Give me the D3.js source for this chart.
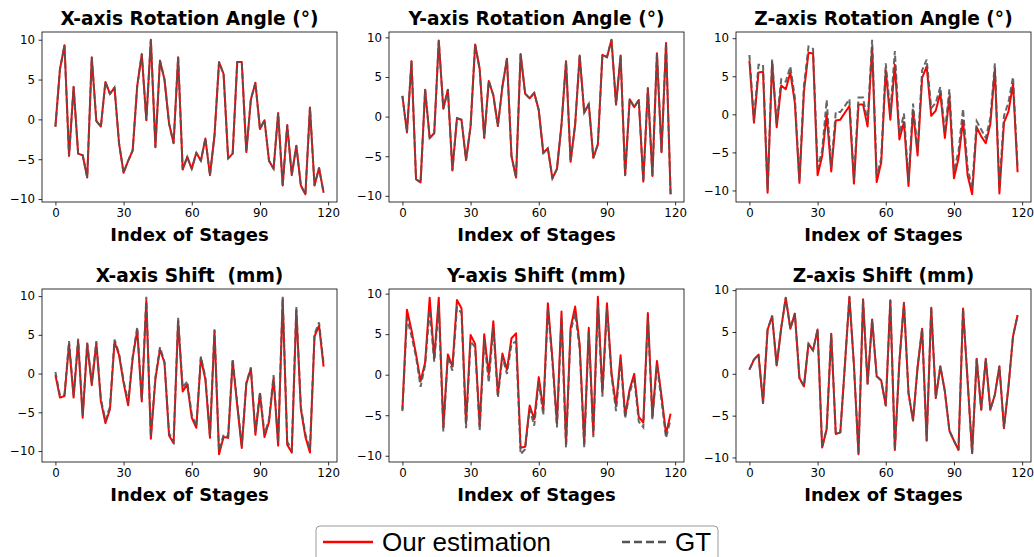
<!DOCTYPE html>
<meta charset="utf-8">
<body style="margin:0;background:#fff">
<script src="https://d3js.org/d3.v7.min.js"></script>
<script>

// Stage indices (every second stage, 0..118)
var stages = d3.range(0, 120, 2);

var xTicks = [0, 30, 60, 90, 120];
var yTicks = [-10, -5, 0, 5, 10];

var titles = ["X-axis Rotation Angle (°)", "Y-axis Rotation Angle (°)", "Z-axis Rotation Angle (°)",
              "X-axis Shift  (mm)", "Y-axis Shift (mm)", "Z-axis Shift (mm)"];

var legendLabels = ["Our estimation", "GT"];

// X rotation
var xRotEst = [-0.9, 6.3, 9.3, -4.6, 4.1, -4.3, -4.5, -7.3, 7.8, -0.2,
               -0.9, 4.7, 3.2, 4.0, -3.0, -6.7, -5.2, -3.9, 4.2, 8.2,
               -0.1, 10.0, -3.5, 7.4, 5.0, -0.5, -3.0, 7.8, -6.3, -4.7,
               -6.2, -4.2, -5.2, -2.4, -7.0, -2.0, 7.2, 5.7, -4.9, -4.3,
               7.2, 7.2, -4.1, 2.5, 4.6, -1.2, -0.1, -5.2, -6.2, 0.8,
               -8.3, -0.7, -7.0, -3.3, -8.3, -9.4, 1.5, -8.3, -6.1, -9.2];
var xRotGT = [-0.9, 6.3, 9.3, -4.6, 4.1, -4.3, -4.5, -7.3, 7.8, -0.2,
              -0.9, 4.7, 3.2, 4.0, -3.0, -6.7, -5.2, -3.9, 4.2, 8.2,
              -0.1, 10.0, -3.5, 7.4, 5.0, -0.5, -3.0, 7.8, -6.3, -4.7,
              -6.2, -4.2, -5.2, -2.4, -7.0, -2.0, 7.2, 5.7, -4.9, -4.3,
              7.2, 7.2, -4.1, 2.5, 4.6, -1.2, -0.1, -5.2, -6.2, 0.8,
              -8.3, -0.7, -7.0, -3.3, -8.3, -9.4, 1.5, -8.3, -6.1, -9.2];

// Y rotation
var yRotEst = [2.6, -2.0, 7.0, -7.9, -8.3, 3.4, -2.7, -2.1, 9.6, 1.0,
               3.4, -6.8, -0.2, -0.4, -5.5, -1.2, 9.1, 6.0, -2.7, 4.5,
               2.7, -1.2, 3.8, 7.3, -5.0, -7.7, 7.9, 2.9, 2.3, 3.0,
               0.8, -4.6, -4.0, -7.8, -6.6, -1.0, 7.0, -5.7, -1.0, 7.7,
               0.5, 1.6, -5.2, -3.5, 7.8, 7.5, 9.7, 1.5, 7.7, -7.4,
               2.2, 1.2, 2.1, -8.2, 3.6, -7.5, 8.0, -4.5, 9.3, -9.8];
var yRotGT = [2.6, -2.0, 7.0, -7.9, -8.3, 3.4, -2.7, -2.1, 9.6, 1.0,
              3.4, -6.8, -0.2, -0.4, -5.5, -1.2, 9.1, 6.0, -2.7, 4.5,
              2.7, -1.2, 3.8, 7.3, -5.0, -7.7, 7.9, 2.9, 2.3, 3.0,
              0.8, -4.6, -4.0, -7.8, -6.6, -1.0, 7.0, -5.7, -1.0, 7.7,
              0.5, 1.6, -5.2, -3.5, 7.8, 7.5, 9.7, 1.5, 7.7, -7.4,
              2.2, 1.2, 2.1, -8.2, 3.6, -7.5, 8.0, -4.5, 9.3, -9.8];

// Z rotation
var zRotEst = [7.0, -1.1, 5.5, 5.6, -10.3, 6.9, -1.7, 3.8, 3.3, 5.5,
               1.5, -9.0, 3.0, 8.1, 8.0, -8.0, -5.5, 0.0, -7.5, -0.8,
               -0.7, 0.2, 1.1, -9.1, 1.3, 1.3, -1.6, 8.8, -8.9, -6.3,
               5.8, -0.7, 6.5, -3.3, -1.0, -9.4, 0.5, -5.4, 4.8, 6.3,
               -0.2, 0.5, 2.8, -3.1, 2.3, -8.4, -5.8, -0.8, -8.0, -10.5,
               -1.7, -2.9, -3.8, -1.3, 5.9, -10.4, -1.1, 0.4, 4.0, -7.6];
var zRotGT = [7.8, -0.8, 6.5, 6.5, -10.0, 7.2, -1.2, 4.6, 4.3, 6.3,
              2.2, -8.7, 3.8, 8.9, 8.6, -7.0, -4.8, 1.9, -7.0, 0.3,
              0.3, 1.1, 2.0, -8.6, 2.2, 2.2, -1.0, 9.8, -8.0, -5.8,
              6.7, 0.2, 8.3, -2.6, 0.1, -8.8, 1.4, -4.7, 5.8, 7.2,
              0.8, 1.5, 3.6, -2.4, 3.3, -7.5, -4.8, 0.7, -7.0, -9.7,
              -0.9, -2.0, -3.1, -0.5, 6.7, -9.6, -0.2, 1.6, 4.9, -7.0];

// X shift
var xShiftEst = [-0.2, -3.1, -2.9, 3.8, -3.1, 4.2, -5.7, 3.8, -1.5, 3.9,
                 -3.5, -6.4, -4.6, 4.1, 2.4, -1.2, -4.1, 2.0, 5.6, -3.6,
                 9.4, -8.4, -0.7, 3.1, 1.4, -8.0, -9.0, 6.8, -2.3, -1.4,
                 -5.7, -7.0, 2.0, -0.8, -8.3, 5.5, -10.4, -8.2, -8.3, 1.6,
                 -4.1, -9.6, -1.3, 0.6, -7.9, -2.6, -8.2, -6.2, -0.6, -9.3,
                 9.6, -9.2, -10.2, 8.2, -4.6, -8.2, -10.2, 4.8, 6.2, 0.9];
var xShiftGT = [0.2, -2.8, -2.7, 4.2, -2.8, 4.5, -5.4, 4.0, -1.2, 4.2,
                -3.3, -6.0, -4.3, 4.4, 2.6, -0.9, -3.7, 2.2, 6.0, -3.4,
                9.9, -8.0, -0.5, 3.4, 1.5, -7.7, -8.8, 7.2, -1.8, -1.0,
                -5.3, -6.8, 2.2, -0.5, -8.0, 5.7, -10.0, -7.9, -8.1, 1.9,
                -3.8, -9.3, -1.2, 0.8, -7.5, -2.4, -7.8, -5.9, -0.2, -9.0,
                9.9, -8.8, -9.8, 8.6, -4.3, -7.8, -9.8, 5.1, 6.6, 1.3];

// Y shift
var yShiftEst = [-4.3, 8.0, 5.5, 2.5, -0.8, 1.5, 9.5, 2.0, 9.5, -6.5,
                 2.5, 1.0, 9.2, 8.2, -6.0, 4.9, 3.8, -6.3, 5.0, 0.0,
                 6.6, -2.5, 2.6, 0.6, 4.5, 5.1, -9.0, -8.9, -3.8, -5.5,
                 -0.3, -4.3, 8.8, 2.0, -6.0, 7.8, -8.5, 5.8, 8.4, 3.7,
                 -8.5, 5.8, -7.3, 9.6, -2.2, 8.8, 0.2, -3.8, 2.4, -5.0,
                 -1.8, 0.1, -5.2, -5.9, 7.6, -5.2, 1.7, -2.6, -7.3, -4.8];
var yShiftGT = [-4.5, 7.0, 4.8, 2.2, -1.5, 1.2, 8.0, 1.6, 8.4, -7.0,
                2.2, 0.5, 8.3, 7.6, -6.6, 4.1, 3.4, -6.9, 4.3, -1.0,
                5.9, -2.8, 2.2, 0.1, 3.8, 4.1, -9.8, -9.2, -4.2, -6.3,
                -0.8, -5.0, 8.2, 1.6, -6.5, 7.0, -9.0, 5.3, 7.6, 3.2,
                -9.0, 5.3, -7.7, 8.6, -2.7, 8.2, -0.1, -4.5, 1.9, -5.4,
                -2.2, -0.4, -5.8, -6.5, 7.0, -5.5, 1.2, -3.2, -7.8, -5.5];

// Z shift
var zShiftEst = [0.5, 1.7, 2.3, -3.5, 5.3, 6.9, 1.0, 5.5, 9.1, 5.4,
                 7.2, -0.5, -1.5, 3.6, 2.8, 5.3, -8.8, -6.6, 4.8, -7.2,
                 -7.0, 1.0, 9.2, 1.0, -9.6, 8.9, -1.2, 6.5, -0.3, -0.8,
                 -3.8, 8.8, -9.1, 1.5, 8.5, -2.3, -5.6, 0.8, 5.4, -8.0,
                 7.9, -2.9, 0.9, -2.1, -6.8, -8.0, -9.1, 7.8, -0.8, -9.5,
                 1.8, -4.3, 1.8, -4.3, -2.5, 0.9, -6.5, -1.5, 4.5, 7.0];
var zShiftGT = [0.5, 1.7, 2.3, -3.5, 5.3, 6.9, 1.0, 5.5, 9.1, 5.4,
                7.2, -0.5, -1.5, 3.6, 2.8, 5.3, -8.8, -6.6, 4.8, -7.2,
                -7.0, 1.0, 9.2, 1.0, -9.6, 8.9, -1.2, 6.5, -0.3, -0.8,
                -3.8, 8.8, -9.1, 1.5, 8.5, -2.3, -5.6, 0.8, 5.4, -8.0,
                7.9, -2.9, 0.9, -2.1, -6.8, -8.0, -9.1, 7.8, -0.8, -9.5,
                1.8, -4.3, 1.8, -4.3, -2.5, 0.9, -6.5, -1.5, 4.5, 7.0];

var estSeries = [xRotEst, yRotEst, zRotEst, xShiftEst, yShiftEst, zShiftEst];
var gtSeries = [xRotGT, yRotGT, zRotGT, xShiftGT, yShiftGT, zShiftGT];

// Layout of the six axes boxes
var width = 1034, height = 557;
var colLeft = [42, 389, 736], colWidth = 295;
var rowTop = [32, 289], rowHeight = [170, 173];

var svg = d3.select("body").append("svg")
    .attr("width", width)
    .attr("height", height)
    .style("font-family", "'DejaVu Sans', sans-serif");

var minus = function(d) { return d < 0 ? "\u2212" + Math.abs(d) : "" + d; };

for (var k = 0; k < 6; k++) {
    var col = k % 3, row = Math.floor(k / 3);
    var w = colWidth, h = rowHeight[row];
    var est = estSeries[k], gt = gtSeries[k];

    var lo = d3.min(est.concat(gt)), hi = d3.max(est.concat(gt));
    var pad = (hi - lo) * 0.05;
    var xPad = (stages[stages.length - 1] - stages[0]) * 0.05;

    var x = d3.scaleLinear().domain([stages[0] - xPad, stages[stages.length - 1] + xPad]).range([0, w]);
    var y = d3.scaleLinear().domain([lo - pad, hi + pad]).range([h, 0]);

    var g = svg.append("g")
        .attr("transform", "translate(" + [colLeft[col], rowTop[row]] + ")");

    var xAxis = g.append("g")
        .attr("transform", "translate(0," + h + ")")
        .call(d3.axisBottom(x).tickValues(xTicks).tickSize(3.5).tickPadding(3.5).tickFormat(minus));

    var yAxis = g.append("g")
        .call(d3.axisLeft(y).tickValues(yTicks).tickSize(3.5).tickPadding(3.5).tickFormat(minus));

    [xAxis, yAxis].forEach(function(a) {
        a.select(".domain").remove();
        a.selectAll("line").attr("stroke", "#000").attr("stroke-width", 0.8);
        a.selectAll("text").attr("font-family", "'DejaVu Sans', sans-serif")
            .attr("font-size", "11.8px").attr("fill", "#000");
    });

    var line = d3.line()
        .x(function(d, i) { return x(stages[i]); })
        .y(function(d) { return y(d); });

    g.append("path")
        .datum(est)
        .attr("fill", "none")
        .attr("stroke", "#ff0000")
        .attr("stroke-width", 2)
        .attr("stroke-linejoin", "round")
        .attr("d", line);

    g.append("path")
        .datum(gt)
        .attr("fill", "none")
        .attr("stroke", "#555555")
        .attr("stroke-opacity", 0.9)
        .attr("stroke-width", 2)
        .attr("stroke-dasharray", "6,3")
        .attr("d", line);

    g.append("rect")
        .attr("width", w)
        .attr("height", h)
        .attr("fill", "none")
        .attr("stroke", "#000")
        .attr("stroke-width", 0.8);

    g.append("text")
        .attr("x", w / 2)
        .attr("y", -7)
        .attr("text-anchor", "middle")
        .attr("font-size", "18.6px")
        .attr("font-weight", "bold")
        .style("white-space", "pre")
        .text(titles[k]);

    g.append("text")
        .attr("x", w / 2)
        .attr("y", h + 39)
        .attr("text-anchor", "middle")
        .attr("font-size", "18px")
        .attr("font-weight", "bold")
        .text("Index of Stages");
}

// Legend
var legend = svg.append("g").attr("transform", "translate(316,526)");

legend.append("rect")
    .attr("width", 402)
    .attr("height", 45)
    .attr("rx", 4)
    .attr("fill", "#fff")
    .attr("stroke", "#999")
    .attr("stroke-width", 1);

legend.append("line")
    .attr("x1", 7).attr("x2", 57).attr("y1", 16).attr("y2", 16)
    .attr("stroke", "#ff0000").attr("stroke-width", 2.5);

legend.append("text")
    .attr("x", 66).attr("y", 25)
    .attr("font-family", "'Liberation Sans', Arial, sans-serif")
    .attr("font-size", "26px")
    .text(legendLabels[0]);

legend.append("line")
    .attr("x1", 306).attr("x2", 352).attr("y1", 16).attr("y2", 16)
    .attr("stroke", "#555555").attr("stroke-width", 2.5)
    .attr("stroke-dasharray", "8,4");

legend.append("text")
    .attr("x", 359).attr("y", 25)
    .attr("font-family", "'Liberation Sans', Arial, sans-serif")
    .attr("font-size", "26px")
    .text(legendLabels[1]);

</script>
